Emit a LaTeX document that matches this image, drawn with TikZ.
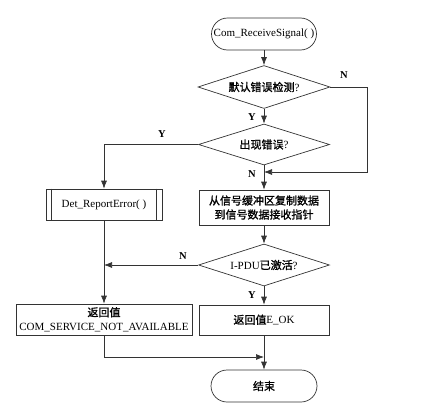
\documentclass[tikz,border=0pt]{standalone}
\usepackage{fontspec}
\setmainfont{Liberation Serif}
\newfontfamily\cjk[FakeBold=1.2]{Noto Sans CJK SC}
\usetikzlibrary{shapes.geometric,arrows.meta}
\tikzset{
  base/.style={draw=black!80, line width=0.7pt, inner sep=1pt, align=center,
    font=\fontsize{11}{14}\selectfont, text=black},
  term/.style={base, rectangle, rounded corners=16pt, minimum height=32pt},
  proc/.style={base, rectangle},
  dec/.style={base, diamond, aspect=3, inner sep=0pt},
  conn/.style={draw=black!80, line width=0.7pt, -{Latex[length=8pt,width=6pt]}},
  line/.style={draw=black!80, line width=0.7pt},
  lab/.style={font=\fontsize{10.5}{12}\selectfont\bfseries, inner sep=0pt}
}
\begin{document}
\begin{tikzpicture}[x=1pt,y=-1pt]
\useasboundingbox (0,0) rectangle (437,407);
\node[term, minimum width=105pt] (start) at (264,34) {Com\_ReceiveSignal( )};
\node[dec, minimum width=132pt, minimum height=43pt] (d1) at (264,87) {{\cjk 默认错误检测}?};
\node[dec, minimum width=131pt, minimum height=41pt] (d2) at (264,144.5) {{\cjk 出现错误}?};
\node[proc, minimum width=130pt, minimum height=35pt] (copy) at (264,207.5) {\cjk 从信号缓冲区复制数据\\\cjk 到信号数据接收指针};
\node[proc, minimum width=116pt, minimum height=31pt] (det) at (104,204.5) {Det\_ReportError( )};
\draw[line] ([xshift=6pt]det.north west) -- ([xshift=6pt]det.south west);
\draw[line] ([xshift=-6pt]det.north east) -- ([xshift=-6pt]det.south east);
\node[dec, minimum width=131pt, minimum height=42pt] (d3) at (264,265) {I-PDU{\cjk 已激活}?};
\node[proc, minimum width=176pt, minimum height=31pt] (ret) at (104,319.5) {{\cjk 返回值}\\COM\_SERVICE\_NOT\_AVAILABLE};
\node[proc, minimum width=130pt, minimum height=30pt] (eok) at (264,320) {{\cjk 返回值}E\_OK};
\node[term, minimum width=106pt] (end) at (264,386) {\cjk 结束};

\coordinate (m1) at (264,172);
\coordinate (r1) at (367,87);
\coordinate (r2) at (367,172);
\coordinate (l1) at (104,144.5);
\coordinate (l2) at (104,265);
\coordinate (b1) at (104,357);
\coordinate (b2) at (264,357);

\draw[conn] (start) -- (d1);
\draw[conn] (d1) -- (d2);
\draw[conn] (d1.east) -- (r1) -- (r2) -- (m1);
\draw[conn] (d2) -- (copy);
\draw[conn] (d2.west) -- (l1) -- (det);
\draw[conn] (copy) -- (d3);
\draw[conn] (d3) -- (eok);
\draw[conn] (d3.west) -- (l2);
\draw[conn] (det) -- (ret);
\draw[conn] (ret.south) -- (b1) -- (b2);
\draw[conn] (eok) -- (end);

\node[lab] (y1) at (252,117) {Y};
\node[lab] (n1) at (344,75) {N};
\node[lab] (y2) at (162,134) {Y};
\node[lab] (n2) at (252,174) {N};
\node[lab] (n3) at (183,256) {N};
\node[lab] (y3) at (252,295) {Y};
\end{tikzpicture}
\end{document}
